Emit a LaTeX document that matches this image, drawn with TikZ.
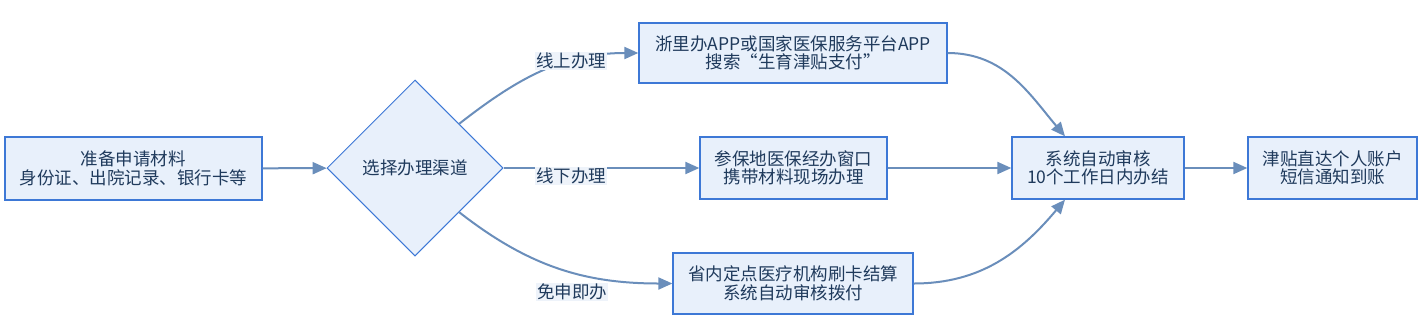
\documentclass[tikz,border=0pt]{standalone}
\usepackage{fontspec}
\setmainfont{Noto Sans CJK SC}
\usepackage{xcolor}
\usetikzlibrary{shapes.geometric, positioning, arrows.meta}

\definecolor{boxfill}{HTML}{E8F0FB}
\definecolor{boxline}{HTML}{3D78D6}
\definecolor{flowline}{HTML}{6A8EBB}
\definecolor{txt}{HTML}{1F3A5C}
\definecolor{lblfill}{HTML}{EEF3FA}

\tikzset{
    box/.style={draw=boxline, fill=boxfill, line width=1.3pt, align=center,
        text=txt, inner sep=0pt, font=\fontsize{17.5}{18.5}\selectfont},
    choice/.style={draw=boxline, fill=boxfill, line width=1pt, diamond, aspect=1,
        minimum size=176pt, inner sep=0pt, text=txt, font=\fontsize{17.5}{18.5}\selectfont},
    lbl/.style={fill=lblfill, text=txt, inner sep=1pt, font=\fontsize{17.5}{18.5}\selectfont},
    flow/.style={draw=flowline, line width=2pt, -{Triangle[width=12pt,length=14pt]}},
}

\begin{document}
\begin{tikzpicture}[x=1pt, y=-1pt]
    \useasboundingbox (0,0) rectangle (1423,333);

    \node[box, minimum width=257pt, minimum height=63pt] (prep) at (133.5,168.5)
        {准备申请材料\\身份证、出院记录、银行卡等};
    \node[choice] (sel) at (415,168) {选择办理渠道};
    \node[box, minimum width=308pt, minimum height=60pt] (online) at (793,53)
        {浙里办APP或国家医保服务平台APP\\搜索“生育津贴支付”};
    \node[box, minimum width=187pt, minimum height=62pt] (offline) at (793.5,168)
        {参保地医保经办窗口\\携带材料现场办理};
    \node[box, minimum width=240pt, minimum height=61pt] (free) at (793,283.5)
        {省内定点医疗机构刷卡结算\\系统自动审核拨付};
    \node[box, minimum width=172pt, minimum height=62pt] (audit) at (1098,168)
        {系统自动审核\\10个工作日内办结};
    \node[box, minimum width=169pt, minimum height=62pt] (result) at (1332.5,168)
        {津贴直达个人账户\\短信通知到账};

    % connectors
    \draw[flow] (prep) -- (sel);
    \draw[flow] (sel.north east) to[out=38, in=180] (online.west);
    \draw[flow] (sel.east) -- (offline.west);
    \draw[flow] (sel.south east) to[out=-38, in=180] (free.west);
    \draw[flow] (online.east) to[out=0, in=130] ([xshift=-33pt]audit.north);
    \draw[flow] (offline.east) -- (audit.west);
    \draw[flow] (free.east) to[out=0, in=-130] ([xshift=-33pt]audit.south);
    \draw[flow] (audit) -- (result);

    % channel labels
    \node[lbl] (lonline) at (571,61) {线上办理};
    \node[lbl] (loffline) at (571,176) {线下办理};
    \node[lbl] (lfree) at (572,292) {免申即办};
\end{tikzpicture}
\end{document}
